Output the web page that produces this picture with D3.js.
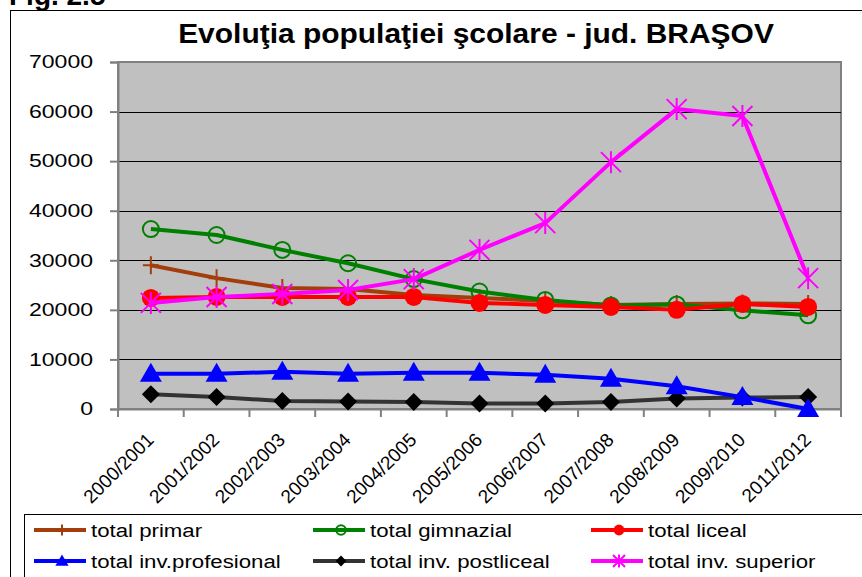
<!DOCTYPE html>
<html>
<head>
<meta charset="utf-8">
<script src="https://cdn.jsdelivr.net/npm/d3@7"></script>
<style>
  body { margin: 0; background: #fff; }
  svg { display: block; font-family: Arial, "Liberation Sans", sans-serif; }
</style>
</head>
<body>
<div id="chart"></div>
<script>
var years = ["2000/2001", "2001/2002", "2002/2003", "2003/2004", "2004/2005", "2005/2006",
             "2006/2007", "2007/2008", "2008/2009", "2009/2010", "2011/2012"];
var yTicks = [0, 10000, 20000, 30000, 40000, 50000, 60000, 70000];

var primar      = [29000, 26400, 24400, 24200, 23000, 22400, 21800, 21000, 21200, 21300, 21200];
var gimnazial   = [36300, 35100, 32100, 29400, 26200, 23700, 22000, 20900, 21100, 19900, 18900];
var liceal      = [22400, 22600, 22600, 22600, 22600, 21400, 21000, 20600, 20000, 21200, 20600];
var profesional = [7100, 7100, 7500, 7100, 7300, 7300, 6900, 6100, 4600, 2400, 0];
var postliceal  = [3000, 2400, 1600, 1500, 1400, 1100, 1100, 1400, 2100, 2300, 2400];
var superior    = [21400, 22600, 23200, 24000, 26200, 32100, 37500, 49800, 60500, 59100, 26400];

var series = [
    {name: "total primar", values: primar, color: "#A33D0B", marker: "plus"},
    {name: "total gimnazial", values: gimnazial, color: "#008000", marker: "circle"},
    {name: "total liceal", values: liceal, color: "#FF0000", marker: "dot"},
    {name: "total inv.profesional", values: profesional, color: "#0000FF", marker: "triangle"},
    {name: "total inv. postliceal", values: postliceal, color: "#333333", marker: "diamond"},
    {name: "total inv. superior", values: superior, color: "#FF00FF", marker: "star"}
];

var width = 862, height = 577;
var plot = {left: 118, top: 62, right: 841, bottom: 409};

var svg = d3.select("#chart").append("svg")
    .attr("width", width)
    .attr("height", height);

// text in the picture is a bit wider than plain Arial
function stretch(sel, k) {
    sel.attr("transform", function() {
        var tx = +d3.select(this).attr("x") || 0;
        return "translate(" + tx + ",0) scale(" + k + ",1) translate(" + (-tx) + ",0)";
    });
}

// figure caption, cut by the top edge
svg.append("text")
    .attr("x", 9).attr("y", 5)
    .attr("font-size", 28).attr("font-weight", "bold")
    .text("Fig. 2.5");

// chart frame
svg.append("rect")
    .attr("x", 10.5).attr("y", 10.5)
    .attr("width", 870).attr("height", 600)
    .attr("fill", "#fff").attr("stroke", "#000").attr("stroke-width", 1);

svg.append("text")
    .attr("x", 476).attr("y", 43)
    .attr("text-anchor", "middle")
    .attr("font-size", 28).attr("font-weight", "bold")
    .text("Evoluţia populaţiei şcolare - jud. BRAŞOV")
    .call(stretch, 1.07);

var x = d3.scaleBand().domain(years).range([plot.left, plot.right]);
var y = d3.scaleLinear().domain([0, 70000]).range([plot.bottom, plot.top]);

svg.append("rect")
    .attr("x", plot.left).attr("y", plot.top)
    .attr("width", plot.right - plot.left).attr("height", plot.bottom - plot.top)
    .attr("fill", "#C0C0C0").attr("stroke", "#808080").attr("stroke-width", 2);

// gridlines
svg.append("g")
    .selectAll("line")
    .data(yTicks.filter(function(d) { return d > 0 && d < 70000; }))
    .enter().append("line")
    .attr("x1", plot.left).attr("x2", plot.right)
    .attr("y1", function(d) { return Math.round(y(d)) + 0.5; })
    .attr("y2", function(d) { return Math.round(y(d)) + 0.5; })
    .attr("stroke", "#000").attr("stroke-width", 1);

// y axis
var yAxis = svg.append("g")
    .attr("transform", "translate(" + plot.left + ",0)")
    .call(d3.axisLeft(y).tickValues(yTicks).tickSize(8).tickPadding(17).tickFormat(d3.format("d")));
yAxis.selectAll("line").attr("stroke", "#808080").attr("stroke-width", 2);
yAxis.select(".domain").attr("stroke", "#808080").attr("stroke-width", 2);
yAxis.selectAll("text")
    .attr("font-size", 18)
    .attr("fill", "#000")
    .attr("font-family", "Arial, 'Liberation Sans', sans-serif")
    .call(stretch, 1.28);

// x axis
var xAxis = svg.append("g")
    .attr("transform", "translate(0," + plot.bottom + ")")
    .call(d3.axisBottom(x).tickSize(0).tickPadding(0));
xAxis.select(".domain").attr("stroke", "#808080").attr("stroke-width", 2);
xAxis.selectAll("text")
    .attr("font-size", 19)
    .attr("fill", "#000")
    .attr("font-family", "Arial, 'Liberation Sans', sans-serif")
    .attr("text-anchor", "end")
    .attr("dy", 0)
    .attr("transform", "translate(4,32) rotate(-45)");
svg.append("g")
    .selectAll("line")
    .data(years.concat(["end"]))
    .enter().append("line")
    .attr("x1", function(d, i) { return plot.left + i * x.bandwidth(); })
    .attr("x2", function(d, i) { return plot.left + i * x.bandwidth(); })
    .attr("y1", plot.bottom).attr("y2", plot.bottom + 8)
    .attr("stroke", "#808080").attr("stroke-width", 2);

function cx(i) { return x(years[i]) + x.bandwidth() / 2; }

function drawMarker(g, type, color, px, py, s) {
    s = s || 1;
    if (type === "plus") {
        g.append("path")
            .attr("d", "M" + (px - 8 * s) + "," + py + "H" + (px + 8 * s) + "M" + px + "," + (py - 9 * s) + "V" + (py + 9 * s))
            .attr("stroke", color).attr("stroke-width", 2);
    } else if (type === "circle") {
        g.append("circle").attr("cx", px).attr("cy", py).attr("r", 8 * s)
            .attr("fill", "none").attr("stroke", color).attr("stroke-width", 2);
    } else if (type === "dot") {
        g.append("circle").attr("cx", px).attr("cy", py).attr("r", 9 * s).attr("fill", color);
    } else if (type === "triangle") {
        g.append("path")
            .attr("d", "M" + px + "," + (py - 11 * s) + "L" + (px + 11 * s) + "," + (py + 8 * s) + "L" + (px - 11 * s) + "," + (py + 8 * s) + "Z")
            .attr("fill", color);
    } else if (type === "diamond") {
        g.append("path")
            .attr("d", "M" + px + "," + (py - 9 * s) + "L" + (px + 9 * s) + "," + py + "L" + px + "," + (py + 9 * s) + "L" + (px - 9 * s) + "," + py + "Z")
            .attr("fill", "#000");
    } else if (type === "star") {
        var r = 10 * s;
        g.append("path")
            .attr("d", "M" + (px - r) + "," + (py - r) + "L" + (px + r) + "," + (py + r) +
                       "M" + (px - r) + "," + (py + r) + "L" + (px + r) + "," + (py - r) +
                       "M" + px + "," + (py - r * 1.1) + "V" + (py + r * 1.1))
            .attr("stroke", color).attr("stroke-width", 2);
    }
}

var line = d3.line()
    .x(function(d, i) { return cx(i); })
    .y(function(d) { return y(d); });

var drawOrder = [4, 3, 0, 1, 2, 5];
drawOrder.forEach(function(k) {
    var s = series[k];
    var g = svg.append("g");
    g.append("path")
        .datum(s.values)
        .attr("d", line)
        .attr("fill", "none")
        .attr("stroke", s.color)
        .attr("stroke-width", 4)
        .attr("stroke-linejoin", "round");
    s.values.forEach(function(v, i) {
        drawMarker(g, s.marker, s.color, cx(i), y(v));
    });
});

// legend
svg.append("rect")
    .attr("x", 24.5).attr("y", 514.5)
    .attr("width", 850).attr("height", 80)
    .attr("fill", "#fff").attr("stroke", "#000").attr("stroke-width", 1);

var colX = [34, 313, 591];
var rowY = [530, 561];
series.forEach(function(s, i) {
    var lx = colX[i % 3], ly = rowY[Math.floor(i / 3)];
    var g = svg.append("g");
    g.append("line")
        .attr("x1", lx).attr("x2", lx + 52)
        .attr("y1", ly).attr("y2", ly)
        .attr("stroke", s.color).attr("stroke-width", 4);
    drawMarker(g, s.marker, s.color, lx + 28, ly, 0.6);
    g.append("text")
        .attr("x", lx + 57).attr("y", ly + 7)
        .attr("font-size", 19)
        .text(s.name)
        .call(stretch, 1.17);
});
</script>
</body>
</html>
